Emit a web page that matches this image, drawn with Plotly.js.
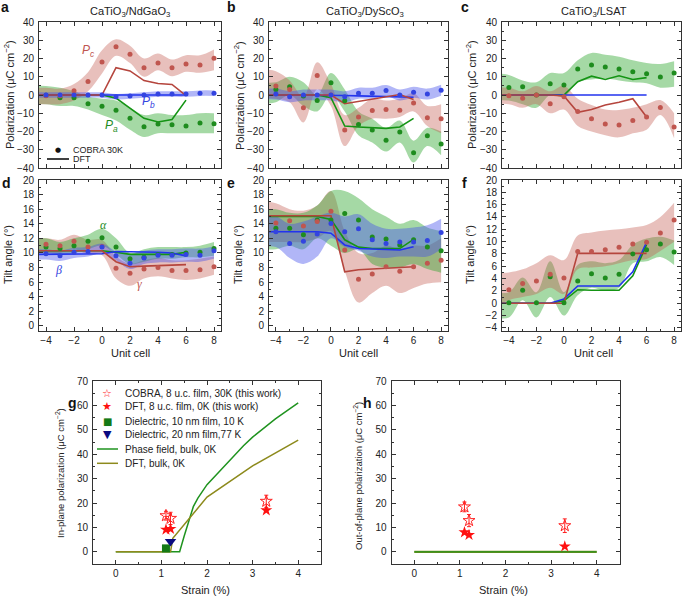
<!DOCTYPE html>
<html><head><meta charset="utf-8">
<script src="https://cdn.plot.ly/plotly-3.0.1.min.js"></script>
<style>html,body{margin:0;padding:0;background:#fff}#chart{width:685px;height:596px}</style>
</head><body><div id="chart"></div>
<script>
// ---------- shared x positions (unit cell) ----------
const DOT_X  = [-4,-3,-2,-1,0,1,2,3,4,5,6,7,8];
const BAND_X = [-5,-4,-3,-2,-1,0,1,2,3,4,5,6,7,8];
const DFT_X  = [-5,-4,-3,-2,-1,0,1,2,3,4,5,6];

// ---------- a: CaTiO3/NdGaO3 polarization ----------
const A_PC_DOT = [-0.4,-0.4,2.3,7.4,18.1,26.5,22.3,14.9,17.6,14.9,17.0,16.5,20.1];
const A_PC_HI  = [4,4,3.5,6,12.5,24.5,30.5,27,20,22.7,19.4,21.8,21.8,25];
const A_PC_LO  = [-5,-5,-5,-3,2,11.8,21.5,17.5,10,13.6,10.3,12.7,12.2,13.6];
const A_PB_DOT = [0,0,0,0,0,-1,-0.5,0,0.5,0.5,0.5,1,1];
const A_PB_HI  = [1.5,1.5,1.5,1.5,1.5,1.5,0.5,1,1.5,2,2,2,2.5,2.5];
const A_PB_LO  = [-1.5,-1.5,-1.5,-1.5,-1.5,-1.5,-2.5,-2,-1.5,-1,-1,-1,-0.5,-0.5];
const A_PA_DOT = [-0.1,-1.5,-1.5,-4.8,-6.1,-8.3,-12.8,-17.4,-15.9,-16.3,-17.0,-15.4,-15.7];
const A_PA_HI  = [5,5,4,2,-1,-2,-3,-7,-11,-10,-11,-11,-10,-10];
const A_PA_LO  = [-5,-5,-6,-6,-8,-11,-14,-19,-23,-21,-21,-21,-21,-21];
const A_PC_DFT = [0,0,0,0,0,0,15,13.2,7.9,6.3,5.8,-0.4];
const A_PA_DFT = [0,0,0,0,0,0,-1.7,-7,-12.8,-14.8,-13.4,-2.8];
const A_PB_DFT = [0,0,0,0,0,0,0,0,0,0,0,0];

// ---------- b: CaTiO3/DyScO3 polarization ----------
const B_PC_DOT = [5,3,-7,10.7,0,-19.2,-12,-8.5,-8,-8.3,-4.4,-12.5,-13];
const B_PC_HI  = [14,13,8,-1,18,6,-11,-7,-2,-3,-2,1,-6,-5];
const B_PC_LO  = [-2,-2,-4,-15,3,-6,-28,-17,-13,-13,-12,-9,-17,-21];
const B_PA_DOT = [3,4.5,-0.5,-3,6.7,-3.2,-16.1,-19.2,-24.8,-20.3,-31.6,-22.3,-26.8];
const B_PA_HI  = [7,7,10,7,0,12,3,-9,-13,-18,-14,-25,-18,-20];
const B_PA_LO  = [-5,-4,0,-6,-9,0,-9,-22,-26,-31,-26,-37,-28,-33];
const B_PB_DOT = [0.5,-1,0,0,0,-1,1,1,2.5,0,1.5,0.5,2.6];
const B_PB_HI  = [3.5,3.5,2,3,3,3,2,4,4,5.5,3,4.5,3.5,5.6];
const B_PB_LO  = [-2.5,-2.5,-4,-3,-3,-3,-4,-2,-2,-0.5,-3,-1.5,-2.5,-0.4];
const B_PC_DFT = [0,0,0,0,0,0,-4.8,-3.5,-2.5,-1,0.3,-2.5];
const B_PA_DFT = [0,0,0,0,0,-1.5,-17,-17.5,-18,-18.3,-17.5,-12.8];
const B_PB_DFT = [0,0,0,0,0,0,-0.3,-0.5,-0.6,-0.7,-0.8,-1.2];

// ---------- c: CaTiO3/LSAT polarization ----------
const C_PA_DOT = [4.1,4.5,0,6.1,5.5,14.2,16.4,15.3,14.3,12.7,11.6,9.8,12];
const C_PA_HI  = [12,11,8,7,12,12,19,23,22,21,19,17.5,17,18.5];
const C_PA_LO  = [-3,-3,-5,-7,0,-1,7,8.5,9,8,7,6.4,4,4.5];
const C_PC_DOT = [-0.4,-1.8,0,-4.8,-1,-9,-13,-15.9,-16.5,-14,-12,-6.8,-17.6];
const C_PC_HI  = [4,4,2,5,2,5,-2,-5.5,-8,-8.2,-7,-5,-2.8,-10];
const C_PC_LO  = [-5,-5,-7,-5,-10,-8,-17,-20,-22,-23.2,-21,-19,-11,-23.7];
const C_PA_DFT = [0,0,0,0,0,0,7.3,10.3,8.5,10.5,8.5,9.5];
const C_PC_DFT = [0,0,0,0,0,-0.5,-9.5,-8,-5.5,-4,-2,-12];
const C_PB_DFT = [0,0,0,0,0,0,0,0,0,0,0,0];

// ---------- d: CaTiO3/NdGaO3 tilt ----------
const D_AL_DOT = [10.8,10.6,11.0,11.6,12.1,10.8,9.2,9.4,9.8,9.8,10.0,10.1,10.6];
const D_AL_HI  = [12,12,11.5,12,12.5,13.3,12,10,10.5,10.8,10.8,10.8,11,11.5];
const D_AL_LO  = [10,10,9.8,10,10.5,11,9.8,8.5,8.8,9.2,9.2,9.4,9.4,9.6];
const D_BE_DOT = [9.9,9.6,10.1,10.2,10.8,9.6,8.6,9.3,9.7,9.7,9.8,9.7,10.3];
const D_BE_HI  = [10.5,10.5,10.3,10.7,10.8,11.3,10.2,9.8,10.3,10.5,10.5,10.6,10.6,10.9];
const D_BE_LO  = [9.1,9.1,8.9,9.3,9.5,10,9,7.8,8.5,8.7,8.7,8.8,8.8,9.2];
const D_GA_DOT = [11.2,11.0,11.6,10.8,10.9,7.9,7.2,7.8,8.0,7.6,7.6,7.7,8.1];
const D_GA_HI  = [12,12,11.8,12.5,11.8,11.8,9.5,8.5,9,9.3,9,9,9.2,9.5];
const D_GA_LO  = [10,10,10,10.5,9.8,9.7,6.5,5.5,6.5,6.8,6.5,6.3,6.5,7];
const D_GA_DFT = [10.3,10.3,10.3,10.3,10.3,10.3,8.8,8.1,8.2,8.3,8.3,8.4];
const D_AL_DFT = [10.3,10.3,10.3,10.3,10.3,10.3,10.1,9.8,9.8,9.8,9.8,10.1];
const D_BE_DFT = [9.8,9.8,9.8,9.8,9.8,9.9,10.2,10.2,10.15,10.1,10.0,9.6];

// ---------- e: CaTiO3/DyScO3 tilt ----------
const E_GA_DOT = [14.1,14.4,13.7,14.3,15.7,10.4,6.4,7.1,8.1,7.5,8.1,8.6,9.0];
const E_GA_HI  = [17.2,16.8,16,15.8,16.5,18.5,13,10,10,11,10.5,11,11,12];
const E_GA_LO  = [11.5,11.5,11.5,11.5,12,13,7.5,3.2,4.5,5.5,4.5,5.2,5.8,6];
const E_AL_DOT = [13.4,13.4,12.5,14.5,14.5,15.4,14.5,12.2,11.9,11.1,11.8,10.8,10.3];
const E_AL_HI  = [16,16,15.5,15.5,16.5,18.5,18.5,17.5,16,15,14,14.5,13.5,13];
const E_AL_LO  = [10.5,10.5,11,10.5,12,11,10,10.5,8.5,8,8,8.5,7.8,7.3];
const E_BE_DOT = [12.9,11.3,11.6,12.6,14.05,12.9,13.3,11.8,11.3,11.5,11.5,11.7,12.8];
const E_BE_HI  = [15,15,14,14.3,15,15.5,15,15.3,14,13.3,13.3,13.5,13.8,14.7];
const E_BE_LO  = [10.8,10.8,9.3,8.5,9.5,12,10.8,10.3,9.5,9.3,9.5,9.5,9.5,10.5];
const E_GA_DFT = [15.1,15.1,15.1,15.1,15.1,15.1,7.4,7.7,7.8,7.9,7.9,8.1];
const E_AL_DFT = [15,15,15,15,15,14.6,11.8,10.8,10.6,10.6,10.6,11.85];
const E_BE_DFT = [12.9,12.9,12.9,12.9,12.9,12.7,11.1,10.6,10.5,10.5,10.4,10.85];

// ---------- f: CaTiO3/LSAT tilt ----------
const F_GA_DOT = [2.2,3.2,3.6,4.7,4.1,8.4,8.4,8.7,9.1,9.6,9.9,11.4,13.5];
const F_GA_HI  = [5,5,5.5,6.5,7.8,7,11,11.5,11.8,12,12.3,12.7,14,16.3];
const F_GA_LO  = [-0.5,0.5,1,1.5,2.5,1.5,5.5,5.8,6,6.5,7,7.2,8.5,10];
const F_AL_DOT = [0.1,2.1,0.1,4.3,0.1,3.6,4.8,4.1,4.7,8.0,8.7,9.6,8.3];
const F_AL_HI  = [1.8,1.8,4.2,1.8,6.8,1.8,6.2,6.8,6.5,7,9.5,10.5,10.8,10.2];
const F_AL_LO  = [-2.3,-2.3,0.5,-2.3,1,-2,1.3,2.5,2,2.5,6.5,6.8,7.5,6.2];
const F_GA_DFT = [0,0,0,0,0,0,8.1,8.1,8.1,8.1,8.1,8.1];
const F_BE_DFT = [0,0,0,0,0,0.7,2.8,2.8,2.8,2.8,5.1,9.9];
const F_AL_DFT = [0,0,0,0,0,0.4,2.2,2.1,2.1,2.1,4.45,9.5];

// ---------- g / h: polarization vs strain ----------
const FILM_STRAIN   = [1.1,1.2,3.3];
const COBRA_IP      = [14.8,13.7,20.7];
const COBRA_IP_ERR  = [1.8,2.5,2.5];
const DFTFILM_IP    = [9.1,9.4,17];
const COBRA_OP      = [18.4,12.8,10.7];
const COBRA_OP_ERR  = [2,2.5,2.8];
const DFTFILM_OP    = [8.0,6.9,2.2];
const DIEL10_X = [1.1], DIEL10_Y = [1.4];
const DIEL20_X = [1.2], DIEL20_Y = [4.2];
const PF_X  = [0,1.4,1.5,1.6,1.7,1.8,2.0,2.2,2.5,2.8,3.0,3.5,4.0];
const PF_IP = [0,0,6.5,13,18.5,22,27.5,31.5,37.5,43.5,47,54.5,61];
const DB_X  = [0,1.2,1.25,2.0,3.0,4.0];
const DB_IP = [0,0,5.5,22.4,35.2,45.8];
const BULK_OP_X = [0,4];
const BULK_OP_Y = [0,0];

// ---------- styling ----------
const FONT = 'Liberation Sans, Arial, Helvetica, sans-serif';
const W = 685, H = 596;
const px = v => v / W, py = v => 1 - v / H;
const RED = '#c0564f', GRN = '#1e8c1e', BLU = '#3344e0';
const RED_L = '#b5453d', GRN_L = '#149414', BLU_L = '#2233ee';
const RED_F = 'rgba(195,90,80,0.38)', GRN_F = 'rgba(40,165,40,0.42)', BLU_F = 'rgba(70,80,235,0.42)';

const traces = [];
function band(n, hi, lo, fill) {
  const xa = 'x' + (n === 1 ? '' : n), ya = 'y' + (n === 1 ? '' : n);
  traces.push({x: BAND_X, y: hi, xaxis: xa, yaxis: ya, mode: 'lines', line: {width: 0, shape: 'spline', smoothing: 1}, hoverinfo: 'skip', showlegend: false});
  traces.push({x: BAND_X, y: lo, xaxis: xa, yaxis: ya, mode: 'lines', line: {width: 0, shape: 'spline', smoothing: 1}, fill: 'tonexty', fillcolor: fill, hoverinfo: 'skip', showlegend: false});
}
function dots(n, vals, col) {
  const xa = 'x' + (n === 1 ? '' : n), ya = 'y' + (n === 1 ? '' : n);
  traces.push({x: DOT_X, y: vals, xaxis: xa, yaxis: ya, mode: 'markers', marker: {size: 5, color: col}, showlegend: false});
}
function dft(n, vals, col) {
  const xa = 'x' + (n === 1 ? '' : n), ya = 'y' + (n === 1 ? '' : n);
  traces.push({x: DFT_X, y: vals, xaxis: xa, yaxis: ya, mode: 'lines', line: {width: 1.6, color: col}, showlegend: false});
}

// a
band(1, A_PA_HI, A_PA_LO, GRN_F); band(1, A_PC_HI, A_PC_LO, RED_F); band(1, A_PB_HI, A_PB_LO, BLU_F);
dft(1, A_PA_DFT, GRN_L); dft(1, A_PB_DFT, BLU_L); dft(1, A_PC_DFT, RED_L);
dots(1, A_PA_DOT, GRN); dots(1, A_PC_DOT, RED); dots(1, A_PB_DOT, BLU);
// b
band(2, B_PA_HI, B_PA_LO, GRN_F); band(2, B_PC_HI, B_PC_LO, RED_F); band(2, B_PB_HI, B_PB_LO, BLU_F);
dft(2, B_PA_DFT, GRN_L); dft(2, B_PB_DFT, BLU_L); dft(2, B_PC_DFT, RED_L);
dots(2, B_PA_DOT, GRN); dots(2, B_PC_DOT, RED); dots(2, B_PB_DOT, BLU);
// c
band(3, C_PA_HI, C_PA_LO, GRN_F); band(3, C_PC_HI, C_PC_LO, RED_F);
dft(3, C_PA_DFT, GRN_L); dft(3, C_PB_DFT, BLU_L); dft(3, C_PC_DFT, RED_L);
dots(3, C_PA_DOT, GRN); dots(3, C_PC_DOT, RED);
// d
band(4, D_GA_HI, D_GA_LO, RED_F); band(4, D_AL_HI, D_AL_LO, GRN_F); band(4, D_BE_HI, D_BE_LO, BLU_F);
dft(4, D_AL_DFT, GRN_L); dft(4, D_BE_DFT, BLU_L); dft(4, D_GA_DFT, RED_L);
dots(4, D_AL_DOT, GRN); dots(4, D_GA_DOT, RED); dots(4, D_BE_DOT, BLU);
// e
band(5, E_GA_HI, E_GA_LO, RED_F); band(5, E_AL_HI, E_AL_LO, GRN_F); band(5, E_BE_HI, E_BE_LO, BLU_F);
dft(5, E_AL_DFT, GRN_L); dft(5, E_BE_DFT, BLU_L); dft(5, E_GA_DFT, RED_L);
dots(5, E_AL_DOT, GRN); dots(5, E_GA_DOT, RED); dots(5, E_BE_DOT, BLU);
// f
band(6, F_AL_HI, F_AL_LO, GRN_F); band(6, F_GA_HI, F_GA_LO, RED_F);
dft(6, F_AL_DFT, GRN_L); dft(6, F_BE_DFT, BLU_L); dft(6, F_GA_DFT, RED_L);
dots(6, F_AL_DOT, GRN); dots(6, F_GA_DOT, RED);

// g
const PFC = '#1f931f', DBC = '#8d8a1c';
traces.push({x: PF_X, y: PF_IP, xaxis: 'x7', yaxis: 'y7', mode: 'lines', line: {color: PFC, width: 1.5}, showlegend: false});
traces.push({x: DB_X, y: DB_IP, xaxis: 'x7', yaxis: 'y7', mode: 'lines', line: {color: DBC, width: 1.5}, showlegend: false});
traces.push({x: DIEL10_X, y: DIEL10_Y, xaxis: 'x7', yaxis: 'y7', mode: 'markers', marker: {symbol: 'square', size: 8, color: '#157a15'}, showlegend: false});
traces.push({x: DIEL20_X, y: DIEL20_Y, xaxis: 'x7', yaxis: 'y7', mode: 'markers', marker: {symbol: 'triangle-down', size: 10, color: '#0b0b80'}, showlegend: false});
traces.push({x: FILM_STRAIN, y: COBRA_IP, xaxis: 'x7', yaxis: 'y7', mode: 'markers', marker: {symbol: 'star-open', size: 9, color: '#ff2020', line: {width: 1, color: '#ff2020'}}, error_y: {type: 'data', array: COBRA_IP_ERR, color: '#ff2020', thickness: 1, width: 2}, showlegend: false});
traces.push({x: FILM_STRAIN, y: DFTFILM_IP, xaxis: 'x7', yaxis: 'y7', mode: 'markers', marker: {symbol: 'star', size: 9, color: '#ff1010'}, showlegend: false});
// h
traces.push({x: BULK_OP_X, y: BULK_OP_Y, xaxis: 'x8', yaxis: 'y8', mode: 'lines', line: {color: DBC, width: 2.2}, showlegend: false});
traces.push({x: BULK_OP_X, y: BULK_OP_Y, xaxis: 'x8', yaxis: 'y8', mode: 'lines', line: {color: PFC, width: 1.3}, showlegend: false});
traces.push({x: FILM_STRAIN, y: COBRA_OP, xaxis: 'x8', yaxis: 'y8', mode: 'markers', marker: {symbol: 'star-open', size: 9, color: '#ff2020', line: {width: 1, color: '#ff2020'}}, error_y: {type: 'data', array: COBRA_OP_ERR, color: '#ff2020', thickness: 1, width: 2}, showlegend: false});
traces.push({x: FILM_STRAIN, y: DFTFILM_OP, xaxis: 'x8', yaxis: 'y8', mode: 'markers', marker: {symbol: 'star', size: 9, color: '#ff1010'}, showlegend: false});

// ---------- axes ----------
function axis(dom, range, dtick, mdtick, labels, anchor, standoff) {
  return {domain: dom, range: range, anchor: anchor, showgrid: false, zeroline: false, showline: true, mirror: 'ticks',
    linecolor: '#333', linewidth: 1, ticks: 'inside', ticklen: 4, tickwidth: 1, tickcolor: '#333', tick0: 0, dtick: dtick,
    showticklabels: labels, tickfont: {family: FONT, size: 10, color: '#222'}, ticklabelstandoff: standoff,
    minor: {ticks: 'inside', ticklen: 2, dtick: mdtick, tick0: 0, tickcolor: '#333', tickwidth: 1}, fixedrange: true};
}
const colX = [[px(39), px(221)], [px(269), px(448)], [px(502), px(681)]];
const rowTop = [py(168), py(22)], rowMid = [py(331), py(180)], rowBot = [py(564), py(381)];
const layout = {
  width: W, height: H, margin: {l: 0, r: 0, t: 0, b: 0}, paper_bgcolor: '#fff', plot_bgcolor: 'rgba(0,0,0,0)',
  font: {family: FONT, size: 10, color: '#222'}, showlegend: false,
  xaxis:  axis(colX[0], [-4.5, 8.5], 2, 1, false, 'y', 0),
  yaxis:  axis(rowTop, [-40, 40], 10, 5, true, 'x', 2),
  xaxis2: axis(colX[1], [-4.5, 8.5], 2, 1, false, 'y2', 0),
  yaxis2: axis(rowTop, [-40, 40], 10, 5, true, 'x2', 2),
  xaxis3: axis(colX[2], [-4.5, 8.5], 2, 1, false, 'y3', 0),
  yaxis3: axis(rowTop, [-40, 40], 10, 5, true, 'x3', 2),
  xaxis4: axis(colX[0], [-4.5, 8.5], 2, 1, true, 'y4', 0),
  yaxis4: axis(rowMid, [-0.7, 20], 2, 1, true, 'x4', 2),
  xaxis5: axis(colX[1], [-4.5, 8.5], 2, 1, true, 'y5', 0),
  yaxis5: axis(rowMid, [-0.7, 20], 2, 1, true, 'x5', 2),
  xaxis6: axis(colX[2], [-4.5, 8.5], 2, 1, true, 'y6', 0),
  yaxis6: axis(rowMid, [-4.5, 20], 2, 1, true, 'x6', 2),
  xaxis7: axis([px(93), px(321)], [-0.5, 4.5], 1, 0.5, true, 'y7', 0),
  yaxis7: axis(rowBot, [-5, 70], 10, 5, true, 'x7', 2),
  xaxis8: axis([px(391.5), px(619.5)], [-0.5, 4.5], 1, 0.5, true, 'y8', 0),
  yaxis8: axis(rowBot, [-5, 70], 10, 5, true, 'x8', 2),
  annotations: [], shapes: []
};

const ann = layout.annotations;
function txt(text, x, y, opts) {
  ann.push(Object.assign({text: text, x: px(x), y: py(y), xref: 'paper', yref: 'paper', showarrow: false,
    xanchor: 'center', yanchor: 'middle', font: {family: FONT, size: 11, color: '#222'}}, opts || {}));
}
// panel letters
[['a', 5, 7], ['b', 231, 7], ['c', 465, 7], ['d', 6, 183], ['e', 231, 183], ['f', 465, 183], ['g', 72, 403], ['h', 367, 403]]
  .forEach(l => txt('<b>' + l[0] + '</b>', l[1], l[2], {font: {family: FONT, size: 14, color: '#111'}}));
// panel titles
txt('CaTiO<sub>3</sub>/NdGaO<sub>3</sub>', 130, 12);
txt('CaTiO<sub>3</sub>/DyScO<sub>3</sub>', 365, 12);
txt('CaTiO<sub>3</sub>/LSAT', 594, 12);
// axis titles
const POL = 'Polarization (μC cm<sup>−2</sup>)';
txt(POL, 9, 95, {textangle: -90});
txt(POL, 239, 95, {textangle: -90});
txt(POL, 471, 95, {textangle: -90});
txt('Tilt angle (°)', 8, 255, {textangle: -90});
txt('Tilt angle (°)', 238, 255, {textangle: -90});
txt('Tilt angle (°)', 470, 255, {textangle: -90});
txt('Unit cell', 130, 353);
txt('Unit cell', 358, 353);
txt('Unit cell', 593, 353);
txt('In-plane polarization (μC cm<sup>−2</sup>)', 60, 473, {textangle: -90, font: {family: FONT, size: 9.5, color: '#222'}});
txt('Out-of-plane polarization (μC cm<sup>−2</sup>)', 358, 476, {textangle: -90, font: {family: FONT, size: 9.5, color: '#222'}});
txt('Strain (%)', 205, 590);
txt('Strain (%)', 504, 590);
// component labels (data coordinates)
function dlab(text, xa, ya, x, y, col, fam) {
  ann.push({text: text, x: x, y: y, xref: xa, yref: ya, showarrow: false, font: {family: fam || FONT, size: 12, color: col}});
}
dlab('<i>P</i><sub><i>c</i></sub>', 'x', 'y', -1, 24, RED);
dlab('<i>P</i><sub><i>b</i></sub>', 'x', 'y', 3.3, -3.7, BLU);
dlab('<i>P</i><sub><i>a</i></sub>', 'x', 'y', 0.7, -17, GRN);
dlab('<i>α</i>', 'x4', 'y4', 0.1, 13.8, GRN, 'Liberation Serif, serif');
dlab('<i>β</i>', 'x4', 'y4', -3.1, 7.6, BLU, 'Liberation Serif, serif');
dlab('<i>γ</i>', 'x4', 'y4', 2.7, 5.8, RED, 'Liberation Serif, serif');

// legend of panel a
txt('●', 58, 150, {font: {family: 'DejaVu Sans, sans-serif', size: 7, color: '#111'}});
layout.shapes.push({type: 'line', xref: 'paper', yref: 'paper', x0: px(47), x1: px(69), y0: py(159), y1: py(159), line: {color: '#111', width: 1.6}});
txt('COBRA 30K', 71, 150, {xanchor: 'left', font: {family: FONT, size: 9, color: '#222'}});
txt('DFT', 71, 159, {xanchor: 'left', font: {family: FONT, size: 9, color: '#222'}});

// legend of panel g
const LG = [
  ['☆', '#ff2020', 'COBRA, 8 u.c. film, 30K (this work)', 11],
  ['★', '#ff1010', 'DFT, 8 u.c. film, 0K (this work)', 11],
  ['■', '#157a15', 'Dielectric, 10 nm film, 10 K', 10],
  ['▼', '#0b0b80', 'Dielectric, 20 nm film,77 K', 11],
  [null, PFC, 'Phase field, bulk, 0K'],
  [null, DBC, 'DFT, bulk, 0K']
];
const LGY = [393.3, 406.8, 421, 434.5, 449, 463.3];
LG.forEach((e, i) => {
  if (e[0]) txt(e[0], 107, LGY[i], {font: {family: 'DejaVu Sans, sans-serif', size: e[3], color: e[1]}});
  else layout.shapes.push({type: 'line', xref: 'paper', yref: 'paper', x0: px(97), x1: px(118), y0: py(LGY[i]), y1: py(LGY[i]), line: {color: e[1], width: 1.5}});
  txt(e[2], 123, LGY[i], {xanchor: 'left', font: {family: FONT, size: 10, color: '#222'}});
});

Plotly.newPlot('chart', traces, layout, {staticPlot: true, displayModeBar: false});
</script></body></html>
